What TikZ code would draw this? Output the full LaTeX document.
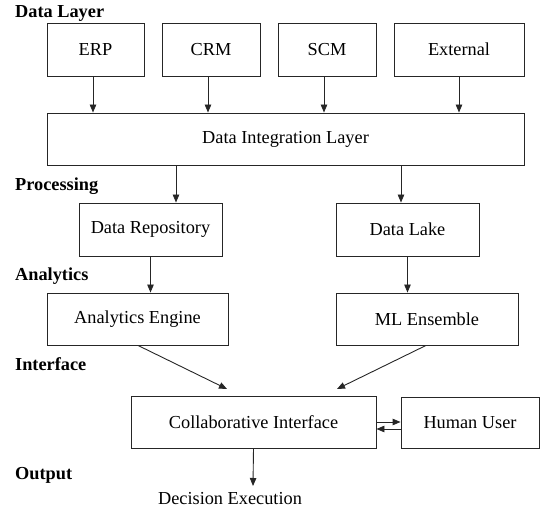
\documentclass[tikz,border=0pt]{standalone}
\usepackage{fontspec}
\setmainfont{Liberation Serif}
\usetikzlibrary{arrows.meta}

\begin{document}
\begin{tikzpicture}[x=1pt,y=-1pt,
  font=\fontsize{18.3}{22}\selectfont,
  box/.style={draw=black!85, line width=0.9pt, minimum height=#1, inner sep=0pt},
  box/.default=52pt,
  arr/.style={draw=black!85, line width=0.9pt, -{Triangle[length=8pt,width=6.5pt]}},
  layer/.style={font=\fontsize{18.3}{22}\selectfont\bfseries, anchor=base west, inner sep=0pt}
]
\useasboundingbox (0,0) rectangle (542,513);

% layer captions
\node[layer] (lData) at (15,17.5) {Data Layer};
\node[layer] (lProc) at (15,190.5) {Processing};
\node[layer] (lAna)  at (15,280.5) {Analytics};
\node[layer] (lInt)  at (15,370.5) {Interface};
\node[layer] (lOut)  at (15,480) {Output};

% source systems
\node[box=53pt, minimum width=97pt]  (erp) at (95.5,49.5) {ERP};
\node[box=53pt, minimum width=98pt]  (crm) at (211,49.5)  {CRM};
\node[box=53pt, minimum width=98pt]  (scm) at (327,49.5)  {SCM};
\node[box=53pt, minimum width=130pt] (ext) at (459,49.5)  {External};

% integration
\node[box, minimum width=477pt] (integ) at (285.5,139) {Data Integration Layer};

% storage
\node[box=53pt, minimum width=143pt] (repo) at (150.5,229.5) {Data Repository};
\node[box=53pt, minimum width=143pt] (lake) at (407.5,229.5) {Data Lake};

% analytics
\node[box, minimum width=181pt] (eng) at (137.5,319) {Analytics Engine};
\node[box, minimum width=182pt] (ml)  at (427,319)   {ML Ensemble};

% interface
\node[box, minimum width=245pt] (collab) at (253.5,422) {Collaborative Interface};
\node[box=51pt, minimum width=138pt] (human) at (470,422.5) {Human User};

% output
\node[anchor=base, inner sep=0pt] (dec) at (230,505) {Decision Execution};
\coordinate (decTop) at (253,486);

% free ends of the converging arrows
\coordinate (inL) at (227,389);
\coordinate (inR) at (337,389);

% sources into integration
\draw[arr] ([xshift=-2.5pt]erp.south) -- ([xshift=-2.5pt]erp.south |- integ.north);
\draw[arr] ([xshift=-3pt]crm.south)   -- ([xshift=-3pt]crm.south |- integ.north);
\draw[arr] ([xshift=-3pt]scm.south)   -- ([xshift=-3pt]scm.south |- integ.north);
\draw[arr] (ext.south) -- (ext.south |- integ.north);

% integration into storage
\draw[arr] ([xshift=25.5pt]repo.north |- integ.south) -- ([xshift=25.5pt]repo.north);
\draw[arr] ([xshift=-6.5pt]lake.north |- integ.south) -- ([xshift=-6.5pt]lake.north);

% storage into analytics
\draw[arr] (repo.south) -- (repo.south |- eng.north);
\draw[arr] (lake.south) -- (lake.south |- ml.north);

% analytics into interface
\draw[arr] ([xshift=0.5pt]eng.south) -- (inL);
\draw[arr] ([xshift=-1pt]ml.south) -- (inR);

% dialogue with the user
\draw[arr] (collab.east) -- (collab.east -| human.west);
\draw[arr] ([yshift=-7pt]human.west |- collab.east) -- ([yshift=-7pt]collab.east);

% decision
\draw[arr] (collab.south) -- (decTop);
\end{tikzpicture}
\end{document}
